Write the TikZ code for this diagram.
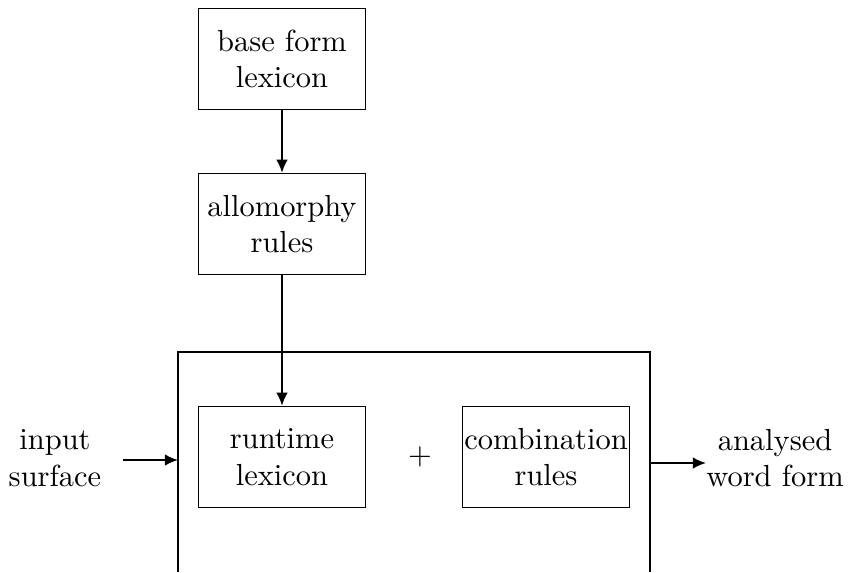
\documentclass[tikz,border=0pt]{standalone}
\usetikzlibrary{positioning,arrows.meta}

\begin{document}
\begin{tikzpicture}[x=0.01153cm,y=-0.01153cm]
        \tikzstyle{blk}=[draw, align=center, inner sep=0pt, minimum width=54.8pt, minimum height=33.2pt]
        \tikzstyle{lbl}=[align=center]
        \tikzstyle{arr}=[-{Latex[length=4.3pt,width=3.8pt]}, semithick]

        \useasboundingbox (0,0) rectangle (850,572);

        \node[blk] (base) at (282,59)  {base form\\lexicon};
        \node[blk] (allo) at (282,224) {allomorphy\\rules};
        \node[blk] (run)  at (282,457) {runtime\\lexicon};
        \node[blk] (comb) at (546,457) {combination\\rules};
        \node (plus) at (420,457) {$+$};

        \node[lbl] (inp) at (55,458)  {input\\surface};
        \node[lbl] (out) at (775,458) {analysed\\word form};

        % frame round the runtime part, open below
        \coordinate (fbl) at (178,572);
        \coordinate (ftl) at (178,352);
        \coordinate (ftr) at (650,352);
        \coordinate (fbr) at (650,572);
        \draw (fbl) -- (ftl) -- (ftr) -- (fbr);

        \coordinate (instart) at (123,460);
        \coordinate (inend)   at (178,460);
        \coordinate (outstart) at (650,463);
        \coordinate (outend)   at (706,463);

        \draw[arr] (base) -- (allo);
        \draw[arr] (allo) -- (run);
        \draw[arr] (instart) -- (inend);
        \draw[arr] (outstart) -- (outend);
\end{tikzpicture}
\end{document}
